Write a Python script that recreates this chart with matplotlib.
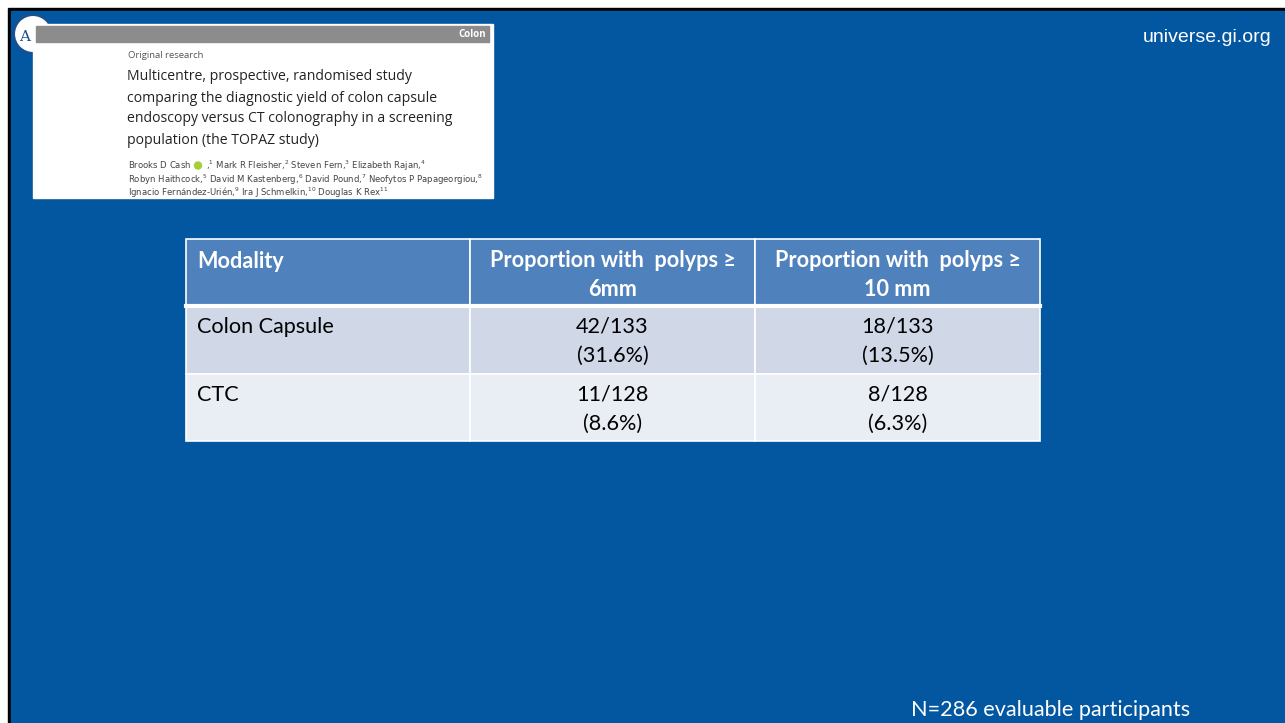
import matplotlib.pyplot as plt
from matplotlib.patches import Rectangle, Circle

# table content
col_headers = ["Modality", "Proportion with  polyps \u2265\n6mm", "Proportion with  polyps \u2265\n10 mm"]
modalities = ["Colon Capsule", "CTC"]
polyps_6mm = [42, 11]
polyps_10mm = [18, 8]
n_group = [133, 128]
pct_6mm = [31.6, 8.6]
pct_10mm = [13.5, 6.3]

paper_title = ["Multicentre, prospective, randomised study",
               "comparing the diagnostic yield of colon capsule",
               "endoscopy versus CT colonography in a screening",
               "population (the TOPAZ study)"]
paper_authors = ["Brooks D Cash      ,$^{1}$ Mark R Fleisher,$^{2}$ Steven Fern,$^{3}$ Elizabeth Rajan,$^{4}$",
                 "Robyn Haithcock,$^{5}$ David M Kastenberg,$^{6}$ David Pound,$^{7}$ Neofytos P Papageorgiou,$^{8}$",
                 "Ignacio Fern\u00e1ndez-Uri\u00e9n,$^{9}$ Ira J Schmelkin,$^{10}$ Douglas K Rex$^{11}$"]
footnote = "N=286 evaluable participants"

BLUE = "#0257a0"
HEAD = "#4f81bd"
ROW_COLORS = ["#d0d8e8", "#e9edf4"]
FONT = "Lato"
FS = 15.6

fig = plt.figure(figsize=(12.85, 7.23), dpi=100)
fig.patch.set_facecolor("white")
ax = fig.add_axes([0, 0, 1, 1])
ax.set_xlim(0, 1285)
ax.set_ylim(723, 0)
ax.axis("off")

# slide background + black edge
ax.add_patch(Rectangle((8, 8), 1400, 800, color="black", clip_on=False))
ax.add_patch(Rectangle((11, 11), 1400, 800, color=BLUE, clip_on=False))

ax.text(1271, 37, "universe.gi.org", color="white", fontsize=14,
        family="Liberation Sans", ha="right", va="center")

# paper snapshot
ax.add_patch(Circle((33, 34), 19, facecolor="white", edgecolor="#1f4e8c", lw=1.5))
ax.text(25, 37, "A", color="#1f4e8c", fontsize=11, family="DejaVu Serif", ha="center", va="center")
ax.add_patch(Rectangle((33, 24), 460, 174, color="white"))
ax.add_patch(Rectangle((36, 26), 453, 16, color="#8c8c8c"))
ax.text(486, 34.5, "Colon", color="white", fontsize=7, weight="bold",
        family="Open Sans", ha="right", va="center")
ax.text(128, 56, "Original research", color="#555555", fontsize=6.8,
        family="Open Sans", va="center")
for i, line in enumerate(paper_title):
    ax.text(127, 77 + i * 21, line, color="#222222", fontsize=10.1,
            family="Open Sans", va="center")
for i, line in enumerate(paper_authors):
    ax.text(128, 166 + i * 13.5, line, color="#444444", fontsize=6.1,
            family="Liberation Sans Narrow", va="center")
ax.add_patch(Circle((198, 165.5), 3.5, color="#a6ce39"))

# table
col_x = [186, 470, 755, 1040]
row_y = [239, 306, 374, 441]
rows = [[modalities[i], f"{polyps_6mm[i]}/{n_group[i]}\n({pct_6mm[i]}%)",
         f"{polyps_10mm[i]}/{n_group[i]}\n({pct_10mm[i]}%)"] for i in range(len(modalities))]

for r in range(3):
    color = HEAD if r == 0 else ROW_COLORS[r - 1]
    for c in range(3):
        ax.add_patch(Rectangle((col_x[c], row_y[r]), col_x[c + 1] - col_x[c],
                               row_y[r + 1] - row_y[r], facecolor=color,
                               edgecolor="white", lw=1.2))
ax.plot([186, 1040], [306, 306], color="white", lw=3)

for c in range(3):
    txt = col_headers[c]
    if c == 0:
        ax.text(197, 261, txt, color="white", fontsize=FS, weight="bold",
                family=FONT, va="center")
    else:
        ax.text((col_x[c] + col_x[c + 1]) / 2, 275, txt, color="white",
                fontsize=FS, weight="bold", family=FONT, ha="center",
                va="center", linespacing=1.5)

for r, row in enumerate(rows):
    top = row_y[r + 1]
    ax.text(197, top + 21, row[0], color="black", fontsize=FS,
            family=FONT, va="center")
    for c in (1, 2):
        ax.text((col_x[c] + col_x[c + 1]) / 2, top + 35, row[c], color="black",
                fontsize=FS, family=FONT, ha="center", va="center",
                linespacing=1.55)

ax.text(911, 710, footnote, color="white", fontsize=FS, family=FONT, va="center")

fig.savefig("out.png", dpi=100, facecolor=fig.get_facecolor())
